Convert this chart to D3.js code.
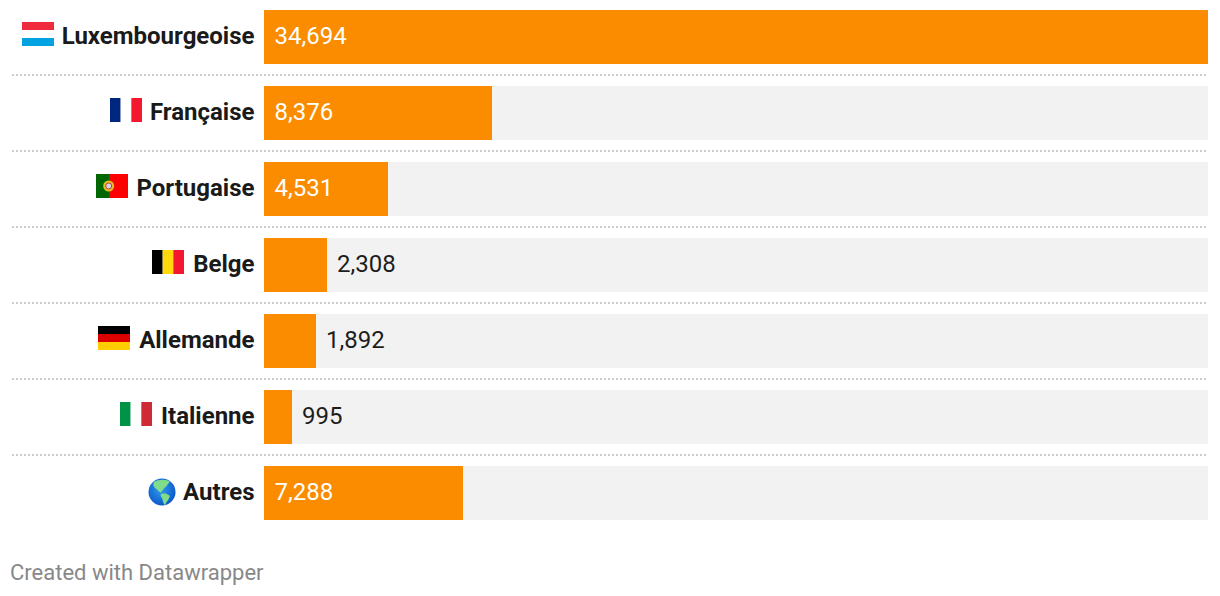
<!DOCTYPE html>
<html>
<head>
<meta charset="utf-8">
<script src="https://cdn.jsdelivr.net/npm/d3@7"></script>
<style>
  html, body { margin: 0; padding: 0; background: #fff; }
  svg { display: block; }
  text { font-family: Roboto, sans-serif; }
</style>
</head>
<body>
<script>
var categories = ["Luxembourgeoise", "Française", "Portugaise", "Belge", "Allemande", "Italienne", "Autres"];
var values = [34694, 8376, 4531, 2308, 1892, 995, 7288];
var valueLabels = ["34,694", "8,376", "4,531", "2,308", "1,892", "995", "7,288"];
var footer = "Created with Datawrapper";

var svgWidth = 1220;
var svgHeight = 596;

var svg = d3.select("body")
  .append("svg")
  .attr("width", svgWidth)
  .attr("height", svgHeight);

var xScale = d3.scaleLinear().domain([0, d3.max(values)]).range([264, 1208]);
var yScale = d3.scaleBand().domain(categories).range([10, 520]).paddingInner(22 / 76);

// bar ends snap up to the next whole pixel
var barEnd = v => Math.ceil(xScale(v));

var rows = svg.selectAll("g.row")
  .data(categories)
  .enter()
  .append("g")
  .attr("class", "row")
  .attr("transform", d => `translate(0, ${yScale(d)})`);

// dotted separators, none under the last row
svg.selectAll("line.sep")
  .data(categories.slice(0, -1))
  .enter()
  .append("line")
  .attr("class", "sep")
  .attr("x1", 12)
  .attr("x2", 1208)
  .attr("y1", d => yScale(d) + yScale.bandwidth() + 11)
  .attr("y2", d => yScale(d) + yScale.bandwidth() + 11)
  .attr("stroke", "#ccc")
  .attr("stroke-width", 2)
  .attr("stroke-dasharray", "2 2");

rows.append("rect")
  .attr("x", xScale(0))
  .attr("width", xScale.range()[1] - xScale(0))
  .attr("height", yScale.bandwidth())
  .attr("fill", "#f2f2f2");

rows.append("rect")
  .attr("x", xScale(0))
  .attr("width", (d, i) => barEnd(values[i]) - xScale(0))
  .attr("height", yScale.bandwidth())
  .attr("fill", "#fb8c00")
  .attr("shape-rendering", "crispEdges");

rows.append("text")
  .attr("x", 254.5)
  .attr("y", 25)
  .attr("dy", "0.36em")
  .attr("text-anchor", "end")
  .attr("font-size", 24)
  .attr("font-weight", 700)
  .attr("fill", "#1a1a1a")
  .text(d => d);

// long bars hold their label, short ones push it outside
rows.append("text")
  .attr("x", (d, i) => values[i] > 4000 ? xScale(0) + 10.5 : barEnd(values[i]) + 10)
  .attr("y", 25)
  .attr("dy", "0.36em")
  .attr("font-size", 24)
  .attr("fill", (d, i) => values[i] > 4000 ? "#fff" : "#1d1d1d")
  .text((d, i) => valueLabels[i]);

// flags, right edge sits just left of the label
function stripes(parent, x, y, w, h, colors, vertical) {
  colors.forEach(function(c, i) {
    parent.append("rect")
      .attr("x", vertical ? x + w * i / colors.length : x)
      .attr("y", vertical ? y : y + h * i / colors.length)
      .attr("width", vertical ? w / colors.length : w)
      .attr("height", vertical ? h : h / colors.length)
      .attr("fill", c);
  });
}

stripes(rows.filter((d, i) => i == 0), 22, 12, 32, 24, ["#ef2b3d", "#ffffff", "#00a3e0"], false);
stripes(rows.filter((d, i) => i == 1), 110, 12, 32, 24, ["#002780", "#ffffff", "#f31830"], true);
stripes(rows.filter((d, i) => i == 3), 152, 12, 32, 24, ["#000000", "#ffd90c", "#f31830"], true);
stripes(rows.filter((d, i) => i == 4), 98, 12, 32, 24, ["#000000", "#dd0000", "#ffce00"], false);
stripes(rows.filter((d, i) => i == 5), 120, 12, 32, 24, ["#009246", "#ffffff", "#ce2b37"], true);

var pt = rows.filter((d, i) => i == 2);
pt.append("rect").attr("x", 96).attr("y", 12).attr("width", 13).attr("height", 24).attr("fill", "#006600");
pt.append("rect").attr("x", 109).attr("y", 12).attr("width", 19).attr("height", 24).attr("fill", "#ff0000");
pt.append("circle").attr("cx", 108.7).attr("cy", 24).attr("r", 5.5).attr("fill", "#e0c020");
pt.append("circle").attr("cx", 108.7).attr("cy", 24).attr("r", 3).attr("fill", "#d5d5ea").attr("stroke", "#c84030").attr("stroke-width", 1);

// globe emoji
var globe = rows.filter((d, i) => i == 6).append("g").attr("transform", "translate(162, 26)");
var grad = svg.append("defs").append("radialGradient").attr("id", "sea")
  .attr("cx", "45%").attr("cy", "40%").attr("r", "65%");
grad.append("stop").attr("offset", "0%").attr("stop-color", "#2f9bf0");
grad.append("stop").attr("offset", "100%").attr("stop-color", "#0a52c6");
globe.append("circle").attr("r", 13.5).attr("fill", "url(#sea)");
globe.append("path")
  .attr("d", "M-8,-10 C-3,-13 5,-13 8,-10 C5,-8 5,-5 2,-4 C1,-1 -1,-1 -1,1 C-3,0 -5,-3 -7,-4 C-9,-6 -9,-8 -8,-10 Z")
  .attr("fill", "#7fdc8a");
globe.append("path")
  .attr("d", "M-1,2 C2,0 6,2 8,4 C7,7 5,9 3,13 C1,12 1,8 0,6 C-1,5 -2,3 -1,2 Z")
  .attr("fill", "#7fdc8a");

svg.append("text")
  .attr("x", 10)
  .attr("y", 580)
  .attr("font-size", 22)
  .attr("fill", "#888")
  .text(footer);
</script>
</body>
</html>
